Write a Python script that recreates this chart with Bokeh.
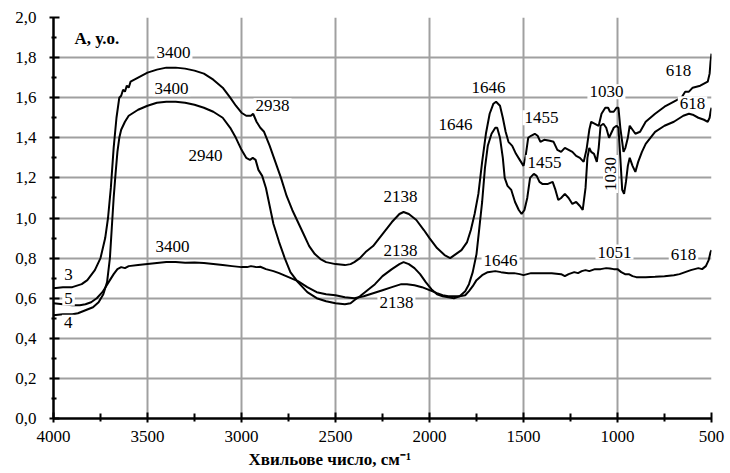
from bokeh.plotting import figure
from bokeh.models import Range1d, FixedTicker, Label, Title
from bokeh.embed import file_html
from bokeh.resources import INLINE

# ---- data (wavenumber, absorbance) ----
x3 = [4000, 3950, 3900, 3850, 3820, 3780, 3750, 3725, 3710, 3695, 3680, 3665, 3650, 3640, 3630, 3620, 3610, 3600,
      3590, 3570, 3550, 3500, 3450, 3400, 3350, 3300, 3250, 3200, 3150, 3100, 3060, 3030, 3000, 2975, 2950, 2938,
      2920, 2900, 2880, 2850, 2820, 2790, 2760, 2730, 2700, 2670, 2640, 2610, 2580, 2550, 2500, 2450, 2420, 2400,
      2370, 2340, 2300, 2250, 2200, 2160, 2138, 2110, 2070, 2030, 2000, 1960, 1920, 1890, 1860, 1830, 1800, 1780,
      1760, 1740, 1720, 1700, 1680, 1660, 1646, 1625, 1610, 1595, 1580, 1560, 1540, 1520, 1500, 1490, 1475, 1460,
      1440, 1425, 1410, 1390, 1360, 1340, 1320, 1300, 1280, 1260, 1240, 1220, 1200, 1180, 1165, 1150, 1140, 1120,
      1100, 1085, 1065, 1050, 1040, 1020, 1005, 995, 985, 975, 968, 958, 945, 935, 920, 905, 880, 850, 800, 750,
      700, 680, 660, 640, 620, 600, 580, 560, 540, 520, 510, 505, 500]
y3 = [0.65, 0.655, 0.655, 0.67, 0.69, 0.74, 0.80, 0.90, 1.00, 1.15, 1.35, 1.50, 1.60, 1.61, 1.64, 1.63, 1.66, 1.65,
      1.68, 1.69, 1.70, 1.725, 1.74, 1.75, 1.75, 1.745, 1.735, 1.72, 1.69, 1.65, 1.60, 1.56, 1.525, 1.51, 1.51, 1.52,
      1.48, 1.45, 1.43, 1.36, 1.28, 1.20, 1.11, 1.04, 0.98, 0.92, 0.86, 0.82, 0.795, 0.78, 0.77, 0.765, 0.77, 0.78,
      0.80, 0.83, 0.86, 0.92, 0.98, 1.02, 1.03, 1.02, 0.99, 0.94, 0.90, 0.85, 0.815, 0.80, 0.82, 0.84, 0.88, 0.94,
      1.02, 1.12, 1.28, 1.42, 1.52, 1.57, 1.58, 1.56, 1.50, 1.43, 1.38, 1.36, 1.32, 1.29, 1.26, 1.30, 1.40, 1.41,
      1.42, 1.41, 1.38, 1.39, 1.385, 1.38, 1.34, 1.33, 1.35, 1.34, 1.33, 1.31, 1.30, 1.28, 1.34, 1.44, 1.48, 1.47,
      1.46, 1.52, 1.55, 1.55, 1.53, 1.53, 1.55, 1.55, 1.45, 1.38, 1.33, 1.35, 1.40, 1.46, 1.44, 1.42, 1.43, 1.48,
      1.52, 1.555, 1.58, 1.59, 1.60, 1.63, 1.63, 1.65, 1.655, 1.66, 1.67, 1.68, 1.72, 1.78, 1.82]

x4 = [4000, 3950, 3900, 3870, 3830, 3790, 3760, 3735, 3715, 3700, 3690, 3680, 3670, 3660, 3650, 3640, 3620, 3600,
      3550, 3500, 3450, 3400, 3350, 3300, 3250, 3200, 3150, 3100, 3060, 3030, 3000, 2975, 2955, 2940, 2925, 2910,
      2890, 2870, 2850, 2830, 2800, 2770, 2740, 2700, 2650, 2600, 2550, 2500, 2450, 2420, 2400, 2370, 2330, 2290,
      2250, 2200, 2160, 2138, 2110, 2080, 2050, 2020, 1990, 1960, 1930, 1900, 1870, 1840, 1810, 1790, 1770, 1750,
      1735, 1720, 1705, 1690, 1670, 1650, 1640, 1625, 1610, 1600, 1585, 1565, 1545, 1525, 1510, 1495, 1480, 1465,
      1445, 1430, 1415, 1400, 1370, 1345, 1330, 1315, 1300, 1280, 1260, 1240, 1220, 1200, 1185, 1170, 1160, 1150,
      1140, 1125, 1110, 1100, 1090, 1075, 1060, 1045, 1035, 1020, 1005, 995, 985, 975, 965, 955, 945, 935, 920,
      905, 890, 870, 850, 800, 750, 700, 650, 620, 600, 570, 540, 520, 510, 505, 500]
y4 = [0.515, 0.52, 0.52, 0.525, 0.54, 0.555, 0.58, 0.62, 0.68, 0.80, 0.95, 1.10, 1.22, 1.33, 1.40, 1.44, 1.48, 1.51,
      1.54, 1.56, 1.575, 1.58, 1.58, 1.575, 1.565, 1.55, 1.53, 1.50, 1.45, 1.40, 1.34, 1.30, 1.29, 1.30, 1.29, 1.24,
      1.21, 1.15, 1.06, 0.97, 0.88, 0.80, 0.73, 0.68, 0.63, 0.60, 0.585, 0.575, 0.57, 0.575, 0.59, 0.61, 0.64, 0.67,
      0.71, 0.745, 0.77, 0.78, 0.77, 0.75, 0.72, 0.68, 0.645, 0.62, 0.61, 0.605, 0.60, 0.61, 0.635, 0.67, 0.73, 0.82,
      0.95, 1.08, 1.25, 1.36, 1.42, 1.45, 1.45, 1.40, 1.30, 1.20, 1.16, 1.14, 1.08, 1.04, 1.02, 1.04, 1.10, 1.20,
      1.22, 1.21, 1.18, 1.17, 1.17, 1.18, 1.14, 1.09, 1.10, 1.12, 1.10, 1.07, 1.08, 1.06, 1.04, 1.15, 1.30, 1.35,
      1.33, 1.32, 1.28, 1.35, 1.46, 1.47, 1.45, 1.40, 1.42, 1.45, 1.46, 1.45, 1.30, 1.14, 1.12, 1.18, 1.26, 1.30, 1.26,
      1.23, 1.28, 1.33, 1.37, 1.43, 1.46, 1.48, 1.51, 1.52, 1.515, 1.50, 1.49, 1.48, 1.50, 1.53, 1.55]

x5 = [4000, 3950, 3900, 3860, 3830, 3800, 3770, 3740, 3720, 3700, 3680, 3660, 3640, 3620, 3600, 3550, 3500, 3450,
      3400, 3350, 3300, 3250, 3200, 3150, 3100, 3050, 3000, 2970, 2950, 2920, 2900, 2870, 2830, 2800, 2750, 2700,
      2650, 2600, 2550, 2500, 2450, 2400, 2350, 2300, 2250, 2200, 2150, 2120, 2080, 2040, 2000, 1960, 1930, 1900,
      1870, 1840, 1810, 1790, 1770, 1750, 1720, 1690, 1650, 1620, 1580, 1550, 1520, 1500, 1480, 1460, 1400, 1350,
      1300, 1280, 1260, 1230, 1210, 1190, 1170, 1150, 1120, 1090, 1060, 1040, 1020, 1000, 980, 960, 940, 920, 900,
      850, 800, 750, 700, 670, 640, 610, 590, 570, 550, 530, 515, 505, 500]
y5 = [0.575, 0.57, 0.565, 0.565, 0.57, 0.58, 0.60, 0.63, 0.66, 0.69, 0.72, 0.745, 0.755, 0.75, 0.76, 0.765, 0.77,
      0.775, 0.78, 0.78, 0.777, 0.778, 0.775, 0.77, 0.765, 0.76, 0.755, 0.755, 0.76, 0.755, 0.757, 0.745, 0.735,
      0.725, 0.705, 0.685, 0.655, 0.63, 0.62, 0.615, 0.605, 0.60, 0.61, 0.625, 0.64, 0.655, 0.67, 0.67, 0.665, 0.655,
      0.64, 0.625, 0.615, 0.61, 0.61, 0.61, 0.615, 0.635, 0.66, 0.69, 0.715, 0.73, 0.735, 0.73, 0.725, 0.725, 0.72,
      0.715, 0.72, 0.725, 0.725, 0.725, 0.72, 0.71, 0.72, 0.73, 0.725, 0.735, 0.74, 0.735, 0.745, 0.745, 0.75, 0.748,
      0.745, 0.745, 0.73, 0.72, 0.72, 0.71, 0.705, 0.705, 0.707, 0.71, 0.715, 0.72, 0.73, 0.74, 0.745, 0.75, 0.745,
      0.76, 0.79, 0.83, 0.84]

x_ticks = [4000, 3500, 3000, 2500, 2000, 1500, 1000, 500]
x_minor = [3750, 3250, 2750, 2250, 1750, 1250, 750]
y_ticks = [0.0, 0.2, 0.4, 0.6, 0.8, 1.0, 1.2, 1.4, 1.6, 1.8, 2.0]
y_tick_labels = ["0,0", "0,2", "0,4", "0,6", "0,8", "1,0", "1,2", "1,4", "1,6", "1,8", "2,0"]
y_minor = [0.1, 0.3, 0.5, 0.7, 0.9, 1.1, 1.3, 1.5, 1.7, 1.9]

# peak annotations: text, wavenumber, absorbance, angle
peak_labels = [
    ("3400", 3362, 1.825, 0), ("3400", 3372, 1.645, 0), ("3400", 3367, 0.86, 0),
    ("2940", 3191, 1.31, 0), ("2938", 2835, 1.56, 0),
    ("2138", 2154, 1.105, 0), ("2138", 2154, 0.84, 0), ("2138", 2176, 0.58, 0),
    ("1646", 1686, 1.65, 0), ("1646", 1862, 1.466, 0), ("1646", 1622, 0.79, 0),
    ("1455", 1404, 1.50, 0), ("1455", 1388, 1.277, 0),
    ("1030", 1059, 1.63, 0), ("1030", 1037, 1.22, 1.5708),
    ("1051", 1016, 0.83, 0),
    ("618", 676, 1.735, 0), ("618", 601, 1.57, 0), ("618", 649, 0.82, 0),
    ("3", 3920, 0.72, 0), ("5", 3920, 0.60, 0), ("4", 3922, 0.48, 0),
]

FONT = "Liberation Serif"

p = figure(width=725, height=473, x_range=Range1d(4000, 500), y_range=Range1d(0, 2),
           output_backend="svg", toolbar_location=None,
           min_border_left=53, min_border_right=14, min_border_top=17, min_border_bottom=55)
p.outline_line_color = None
p.background_fill_color = "white"

for g in (p.xgrid, p.ygrid):
    g.grid_line_color = "#a0a0a0"
    g.grid_line_width = 2
p.xgrid.ticker = FixedTicker(ticks=x_ticks)
p.ygrid.ticker = FixedTicker(ticks=y_ticks)

p.xaxis.ticker = FixedTicker(ticks=x_ticks, minor_ticks=x_minor)
p.yaxis.ticker = FixedTicker(ticks=y_ticks, minor_ticks=y_minor)
p.yaxis.major_label_overrides = {(int(v) if v == int(v) else v): s for v, s in zip(y_ticks, y_tick_labels)}

for ax in (p.xaxis, p.yaxis):
    ax.axis_line_color = "black"
    ax.axis_line_width = 2.5
    ax.major_tick_line_color = "black"
    ax.major_tick_line_width = 2
    ax.minor_tick_line_color = "black"
    ax.minor_tick_line_width = 2
    ax.major_tick_in = 6
    ax.major_tick_out = 4
    ax.major_label_text_font = FONT
    ax.major_label_text_font_size = "17px"
    ax.major_label_text_color = "black"
p.xaxis.minor_tick_in = 5
p.xaxis.minor_tick_out = 3
p.yaxis.minor_tick_in = 3
p.yaxis.minor_tick_out = 2
p.xaxis.major_label_standoff = 8
p.yaxis.major_label_standoff = 13

for xs, ys in ((x3, y3), (x4, y4), (x5, y5)):
    p.line(xs, ys, line_color="black", line_width=2)

for txt, xv, yv, ang in peak_labels:
    p.add_layout(Label(x=xv, y=yv, text=txt, angle=ang, text_align="center", text_baseline="middle",
                       text_font=FONT, text_font_size="17px", text_color="black",
                       background_fill_color="white", padding=2))

p.add_layout(Label(x=3888, y=1.895, text="A, у.о.", text_align="left", text_baseline="middle",
                   text_font=FONT, text_font_size="17px", text_font_style="bold", text_color="black",
                   background_fill_color="white"))

p.add_layout(Title(text="Хвильове число, см⁻¹", align="left", offset=195, standoff=6,
                   text_font=FONT, text_font_size="17px", text_font_style="bold", text_color="black"),
             "below")

open("out.html", "w").write(file_html(p, INLINE))
